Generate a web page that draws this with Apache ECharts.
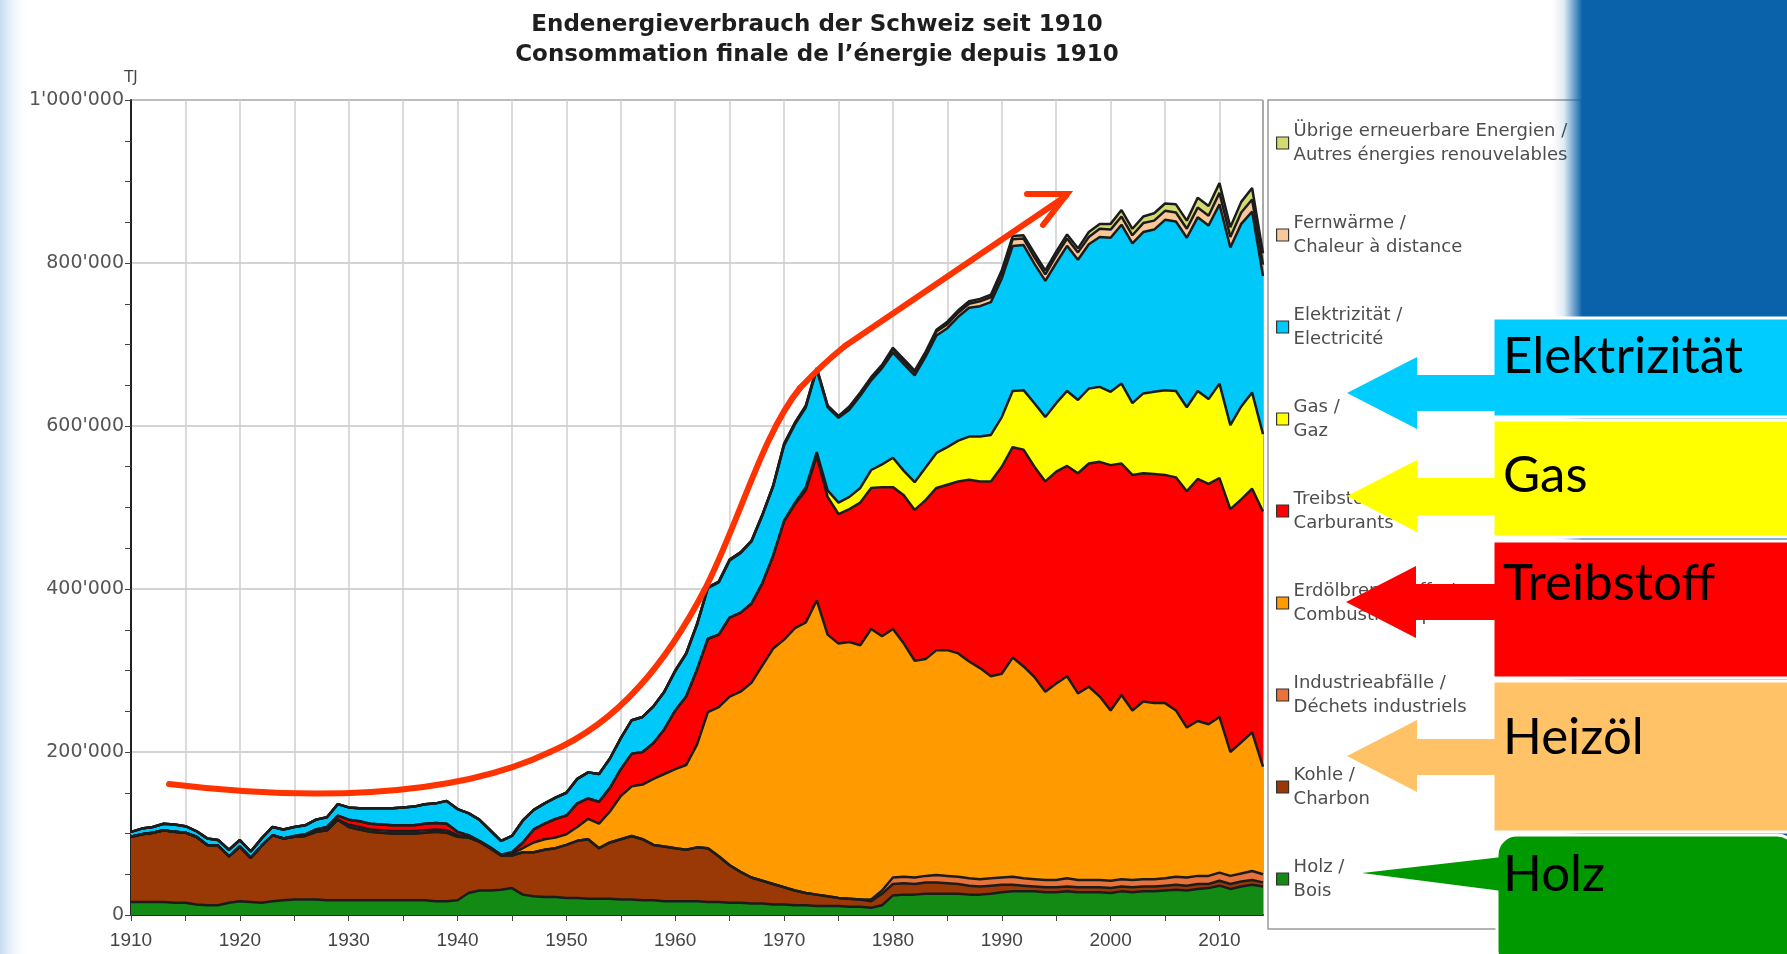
<!DOCTYPE html>
<html>
<head>
<meta charset="utf-8">
<title>Endenergieverbrauch der Schweiz seit 1910</title>
<script src="https://cdn.jsdelivr.net/npm/echarts@6/dist/echarts.min.js"></script>
<style>
  html, body { margin: 0; padding: 0; background: #fff; }
  #main { width: 1787px; height: 954px; }
</style>
</head>
<body>
<div id="main"></div>
<script>
var firstYear = 1910;
var lastYear = 2014;

// Werte in 1000 TJ, ein Wert pro Jahr 1910-2014
var holz = [
  16, 16, 16, 16, 15, 15, 13, 12, 12, 15,
  17, 16, 15, 17, 18, 19, 19, 19, 18, 18,
  18, 18, 18, 18, 18, 18, 18, 18, 17, 17,
  18, 27, 30, 30, 31, 33, 25, 23, 22, 22,
  21, 21, 20, 20, 20, 19, 19, 18, 18, 17,
  17, 17, 17, 16, 16, 15, 15, 14, 14, 13,
  13, 12, 12, 11, 11, 11, 10, 10, 9, 12,
  24, 25, 25, 26, 26, 26, 26, 25, 25, 26,
  28, 29, 29, 29, 28, 28, 29, 28, 28, 28,
  27, 29, 28, 29, 29, 30, 31, 30, 32, 33,
  36, 32, 35, 37, 35
];
var kohle = [
  80, 83, 85, 88, 87, 86, 83, 74, 73, 57,
  67, 54, 70, 81, 76, 77, 78, 83, 86, 99,
  90, 87, 84, 83, 82, 82, 82, 83, 85, 84,
  78, 68, 60, 52, 42, 40, 52, 54, 58, 60,
  65, 70, 73, 62, 69, 74, 78, 75, 68, 67,
  65, 63, 66, 66, 56, 46, 38, 32, 28, 25,
  21, 18, 15, 14, 12, 10, 10, 9, 8, 14,
  14, 14, 13, 14, 14, 13, 12, 11, 10, 10,
  9, 8, 7, 6, 6, 6, 6, 6, 6, 6,
  6, 6, 6, 6, 6, 6, 6, 6, 6, 5,
  6, 6, 6, 6, 5
];
var industrie = [
  0, 0, 0, 0, 0, 0, 0, 0, 0, 0,
  0, 0, 0, 0, 0, 0, 0, 0, 0, 0,
  0, 0, 0, 0, 0, 0, 0, 0, 0, 0,
  0, 0, 0, 0, 0, 0, 0, 0, 0, 0,
  0, 0, 0, 0, 0, 0, 0, 0, 0, 0,
  0, 0, 0, 0, 0, 0, 0, 0, 0, 0,
  0, 0, 0, 0, 0, 0, 0, 0, 2, 4,
  8, 8, 8, 8, 9, 9, 9, 9, 9, 9,
  9, 10, 9, 9, 9, 9, 10, 9, 9, 9,
  9, 9, 9, 9, 9, 9, 10, 10, 10, 10,
  10, 10, 10, 11, 10
];
var erdoel = [
  0, 0, 0, 0, 0, 0, 0, 0, 0, 0,
  0, 0, 0, 0, 0, 0, 0, 0, 0, 0,
  3, 3, 3, 3, 3, 3, 3, 3, 3, 3,
  2, 1, 0, 0, 0, 2, 5, 12, 13, 13,
  13, 17, 25, 30, 38, 53, 61, 67, 81, 89,
  97, 104, 126, 167, 183, 207, 221, 239, 264, 289,
  304, 322, 332, 361, 321, 312, 315, 312, 332, 312,
  305, 286, 266, 266, 276, 277, 274, 266, 259, 248,
  250, 269, 260, 248, 231, 241, 248, 229, 237, 225,
  209, 226, 208, 218, 216, 215, 204, 184, 190, 186,
  191, 152, 161, 170, 132
];
var treibstoffe = [
  0, 0, 0, 0, 0, 0, 0, 0, 0, 0,
  0, 0, 0, 0, 0, 1, 2, 3, 4, 5,
  6, 7, 7, 7, 7, 7, 7, 8, 8, 8,
  4, 2, 1, 1, 1, 2, 7, 16, 19, 23,
  23, 29, 25, 27, 29, 33, 40, 40, 44, 55,
  72, 84, 92, 90, 89, 97, 97, 97, 101, 114,
  145, 152, 162, 177, 169, 159, 163, 175, 173, 183,
  174, 182, 185, 195, 199, 203, 211, 223, 229, 239,
  254, 258, 266, 258, 258, 260, 258, 270, 274, 288,
  301, 284, 289, 280, 281, 280, 286, 290, 297, 295,
  293, 298, 298, 299, 313
];
var gas = [
  0, 0, 0, 0, 0, 0, 0, 0, 0, 0,
  0, 0, 0, 0, 0, 0, 0, 0, 0, 0,
  0, 0, 0, 0, 0, 0, 0, 0, 0, 0,
  0, 0, 0, 0, 0, 0, 0, 0, 0, 0,
  0, 0, 0, 0, 0, 0, 0, 0, 0, 0,
  0, 0, 0, 0, 0, 0, 0, 0, 0, 0,
  1, 2, 4, 5, 8, 14, 15, 18, 22, 28,
  36, 30, 34, 40, 43, 46, 50, 53, 55, 57,
  61, 69, 73, 78, 79, 84, 92, 90, 92, 92,
  90, 98, 88, 98, 101, 104, 106, 103, 108, 104,
  116, 103, 114, 118, 95
];
var elektrizitaet = [
  6, 7, 7, 8, 9, 8, 7, 8, 7, 8,
  8, 8, 9, 10, 11, 11, 11, 12, 12, 14,
  15, 16, 19, 20, 21, 22, 23, 24, 24, 28,
  28, 27, 26, 21, 17, 20, 27, 24, 25, 26,
  28, 30, 32, 34, 36, 38, 41, 43, 45, 46,
  48, 52, 55, 62, 64, 70, 73, 76, 83, 85,
  92, 96, 98, 101, 102, 104, 107, 113, 110, 118,
  129, 131, 131, 136, 144, 146, 152, 158, 160, 163,
  170, 178, 178, 171, 167, 172, 178, 172, 177, 184,
  189, 195, 196, 198, 199, 209, 208, 208, 213, 213,
  220, 218, 224, 222, 194
];
var fernwaerme = [
  0, 0, 0, 0, 0, 0, 0, 0, 0, 0,
  0, 0, 0, 0, 0, 0, 0, 0, 0, 0,
  0, 0, 0, 0, 0, 0, 0, 0, 0, 0,
  0, 0, 0, 0, 0, 0, 0, 0, 0, 0,
  0, 0, 0, 0, 0, 0, 0, 0, 0, 0,
  1, 1, 1, 1, 1, 1, 1, 1, 1, 1,
  2, 2, 2, 2, 2, 2, 3, 3, 3, 3,
  4, 4, 4, 4, 5, 5, 5, 5, 6, 6,
  7, 8, 8, 8, 8, 9, 9, 9, 9, 10,
  10, 10, 10, 11, 11, 11, 11, 11, 12, 12,
  14, 13, 14, 15, 14
];
var uebrige = [
  0, 0, 0, 0, 0, 0, 0, 0, 0, 0,
  0, 0, 0, 0, 0, 0, 0, 0, 0, 0,
  0, 0, 0, 0, 0, 0, 0, 0, 0, 0,
  0, 0, 0, 0, 0, 0, 0, 0, 0, 0,
  0, 0, 0, 0, 0, 0, 0, 0, 0, 0,
  0, 0, 0, 0, 0, 0, 0, 0, 0, 0,
  0, 0, 0, 0, 0, 0, 1, 1, 1, 1,
  2, 2, 2, 2, 2, 3, 3, 3, 3, 3,
  3, 4, 4, 5, 5, 5, 5, 5, 6, 6,
  7, 8, 8, 8, 9, 9, 10, 10, 12, 12,
  12, 12, 13, 14, 14
];

var seriesNames = ['Holz', 'Kohle', 'Industrieabfälle', 'Erdölbrennstoffe', 'Treibstoffe',
  'Gas', 'Elektrizität', 'Fernwärme', 'Übrige erneuerbare Energien'];
var legendLabels = [
  'Holz /\nBois',
  'Kohle /\nCharbon',
  'Industrieabfälle /\nDéchets industriels',
  'Erdölbrennstoffe /\nCombustibles pétroliers',
  'Treibstoffe /\nCarburants',
  'Gas /\nGaz',
  'Elektrizität /\nElectricité',
  'Fernwärme /\nChaleur à distance',
  'Übrige erneuerbare Energien /\nAutres énergies renouvelables'
];
var colors = ['#128a14', '#9a3806', '#e8733a', '#ff9b00', '#ff0000',
  '#ffff00', '#00c8f8', '#f8c898', '#d3db70'];
var values = [holz, kohle, industrie, erdoel, treibstoffe, gas, elektrizitaet, fernwaerme, uebrige];

var years = [];
for (var y = firstYear; y <= lastYear; y++) years.push(String(y));

function fmtTJ(v) {
  return String(Math.round(v * 1000)).replace(/\B(?=(\d{3})+(?!\d))/g, "'");
}
// Gitter alle 5 Jahre, Beschriftung alle 10 Jahre
function every5(idx) { return idx % 5 === 0; }
function every10(idx) { return idx % 10 === 0; }

var chartDom = document.getElementById('main');
var myChart = echarts.init(chartDom);

var series = seriesNames.map(function (name, i) {
  return {
    name: name,
    type: 'line',
    stack: 'total',
    symbol: 'none',
    data: values[i],
    color: colors[i],
    itemStyle: { color: colors[i] },
    lineStyle: { color: '#1c1c1c', width: 2.5 },
    areaStyle: { color: colors[i], opacity: 1 },
    emphasis: { disabled: true }
  };
});

var lg = echarts.graphic.LinearGradient;
var arrowStyle = { stroke: '#ff3300', lineWidth: 6, fill: 'none', lineCap: 'round' };
function curve(x1, y1, c1x, c1y, c2x, c2y, x2, y2) {
  return { type: 'bezierCurve', silent: true, z: 60,
    shape: { x1: x1, y1: y1, cpx1: c1x, cpy1: c1y, cpx2: c2x, cpy2: c2y, x2: x2, y2: y2 },
    style: arrowStyle };
}

var graphics = [
  // hellblauer Rand links
  { type: 'rect', silent: true, z: 0, shape: { x: 0, y: 0, width: 30, height: 954 },
    style: { fill: new lg(0, 0, 1, 0, [{ offset: 0, color: '#c6dcf1' }, { offset: 1, color: 'rgba(255,255,255,0)' }]) } },
  // blaue Folienfläche rechts
  { type: 'rect', silent: true, z: 50, shape: { x: 1552, y: 0, width: 235, height: 954 },
    style: { fill: new lg(0, 0, 1, 0, [
      { offset: 0, color: 'rgba(10,99,170,0)' },
      { offset: 0.05, color: 'rgba(10,99,170,0.12)' },
      { offset: 0.13, color: '#0a63aa' },
      { offset: 1, color: '#0a63aa' }]) } },
  // Kästen
  { type: 'rect', silent: true, z: 51, shape: { x: 1493, y: 318, width: 300, height: 99 },
    style: { fill: '#00ccff', stroke: '#fff', lineWidth: 3 } },
  { type: 'rect', silent: true, z: 51, shape: { x: 1493, y: 420, width: 300, height: 117 },
    style: { fill: '#ffff00', stroke: '#fff', lineWidth: 3 } },
  { type: 'rect', silent: true, z: 51, shape: { x: 1493, y: 541, width: 300, height: 137 },
    style: { fill: '#ff0000', stroke: '#fff', lineWidth: 3 } },
  { type: 'rect', silent: true, z: 51, shape: { x: 1493, y: 681, width: 300, height: 151 },
    style: { fill: '#ffc266', stroke: '#fff', lineWidth: 3 } },
  { type: 'rect', silent: true, z: 51, shape: { x: 1497, y: 835, width: 300, height: 135, r: 20 },
    style: { fill: '#009900', stroke: '#fff', lineWidth: 3 } },
  // Pfeile
  { type: 'polygon', silent: true, z: 52,
    shape: { points: [[1347, 393], [1417, 357], [1417, 375], [1500, 375], [1500, 411], [1417, 411], [1417, 429]] },
    style: { fill: '#00ccff' } },
  { type: 'polygon', silent: true, z: 52,
    shape: { points: [[1347, 496], [1417, 460], [1417, 478], [1500, 478], [1500, 515], [1417, 515], [1417, 532]] },
    style: { fill: '#ffff00' } },
  { type: 'polygon', silent: true, z: 52,
    shape: { points: [[1346, 602], [1416, 566], [1416, 584], [1500, 584], [1500, 620], [1416, 620], [1416, 638]] },
    style: { fill: '#ff0000' } },
  { type: 'polygon', silent: true, z: 52,
    shape: { points: [[1347, 756], [1417, 720], [1417, 739], [1500, 739], [1500, 775], [1417, 775], [1417, 792]] },
    style: { fill: '#ffc266' } },
  { type: 'polygon', silent: true, z: 52,
    shape: { points: [[1362, 873], [1502, 857], [1502, 891]] },
    style: { fill: '#009900' } },
  // Beschriftungen
  { type: 'text', silent: true, z: 53, x: 1503, y: 357,
    style: { text: 'Elektrizität', font: '51px Lato', fill: '#000', verticalAlign: 'middle' } },
  { type: 'text', silent: true, z: 53, x: 1503, y: 476,
    style: { text: 'Gas', font: '51px Lato', fill: '#000', verticalAlign: 'middle' } },
  { type: 'text', silent: true, z: 53, x: 1503, y: 584,
    style: { text: 'Treibstoff', font: '51px Lato', fill: '#000', verticalAlign: 'middle' } },
  { type: 'text', silent: true, z: 53, x: 1503, y: 738,
    style: { text: 'Heizöl', font: '51px Lato', fill: '#000', verticalAlign: 'middle' } },
  { type: 'text', silent: true, z: 53, x: 1503, y: 875,
    style: { text: 'Holz', font: '51px Lato', fill: '#000', verticalAlign: 'middle' } },
  // roter Trendpfeil
  curve(169, 784, 300, 800, 450, 800, 550, 752),
  curve(550, 752, 620, 722, 668, 660, 705, 589),
  curve(705, 589, 740, 520, 762, 435, 800, 388),
  curve(800, 388, 815, 372, 830, 358, 845, 346),
  { type: 'line', silent: true, z: 60, shape: { x1: 845, y1: 346, x2: 1066, y2: 196 }, style: arrowStyle },
  { type: 'polyline', silent: true, z: 60,
    shape: { points: [[1027, 194], [1067, 194], [1043, 225]] },
    style: arrowStyle }
];

var option = {
  animation: false,
  backgroundColor: '#fff',
  title: {
    text: 'Endenergieverbrauch der Schweiz seit 1910\nConsommation finale de l’énergie depuis 1910',
    left: 812,
    top: 5,
    textAlign: 'center',
    textStyle: { fontFamily: 'DejaVu Sans', fontSize: 23, fontWeight: 'bold', lineHeight: 30, color: '#1e1e1e' }
  },
  grid: {
    left: 131, top: 100, width: 1132, height: 815,
    show: true, borderColor: '#555', borderWidth: 1, backgroundColor: '#fff'
  },
  legend: {
    orient: 'vertical',
    left: 1268,
    top: 100,
    data: seriesNames.slice().reverse(),
    icon: 'rect',
    itemWidth: 12,
    itemHeight: 12,
    itemGap: 20,
    padding: [7, 14, 14, 8],
    backgroundColor: '#fff',
    borderColor: '#9a9a9a',
    borderWidth: 1.5,
    selectedMode: false,
    itemStyle: { borderColor: '#333', borderWidth: 1.2 },
    formatter: function (name) { return legendLabels[seriesNames.indexOf(name)]; },
    textStyle: {
      fontFamily: 'DejaVu Sans', fontSize: 18, lineHeight: 24, color: '#4d4d4d',
      padding: [24, 0, 0, 0]
    }
  },
  xAxis: {
    type: 'category',
    data: years,
    boundaryGap: false,
    axisLine: { lineStyle: { color: '#222', width: 2 } },
    axisTick: { length: 6, interval: every5, lineStyle: { color: '#444' } },
    axisLabel: {
      margin: 16, fontFamily: 'Liberation Sans', fontSize: 19, color: '#444',
      interval: every10
    },
    splitLine: { show: true, interval: every5, lineStyle: { color: '#cfcfcf', width: 1.5 } }
  },
  yAxis: {
    type: 'value',
    min: 0,
    max: 1000,
    interval: 200,
    name: 'TJ',
    nameLocation: 'end',
    nameGap: 14,
    nameTextStyle: { fontFamily: 'DejaVu Sans', fontSize: 15, color: '#444' },
    axisLine: { show: true, lineStyle: { color: '#222', width: 2 } },
    axisTick: { show: true, length: 6, lineStyle: { color: '#444' } },
    minorTick: { show: true, splitNumber: 4, length: 6, lineStyle: { color: '#444' } },
    axisLabel: { margin: 7, fontFamily: 'DejaVu Sans', fontSize: 19, color: '#555', formatter: fmtTJ },
    splitLine: { lineStyle: { color: '#c4c4c4', width: 1.5 } }
  },
  graphic: graphics,
  series: series
};

option && myChart.setOption(option);
</script>
</body>
</html>
